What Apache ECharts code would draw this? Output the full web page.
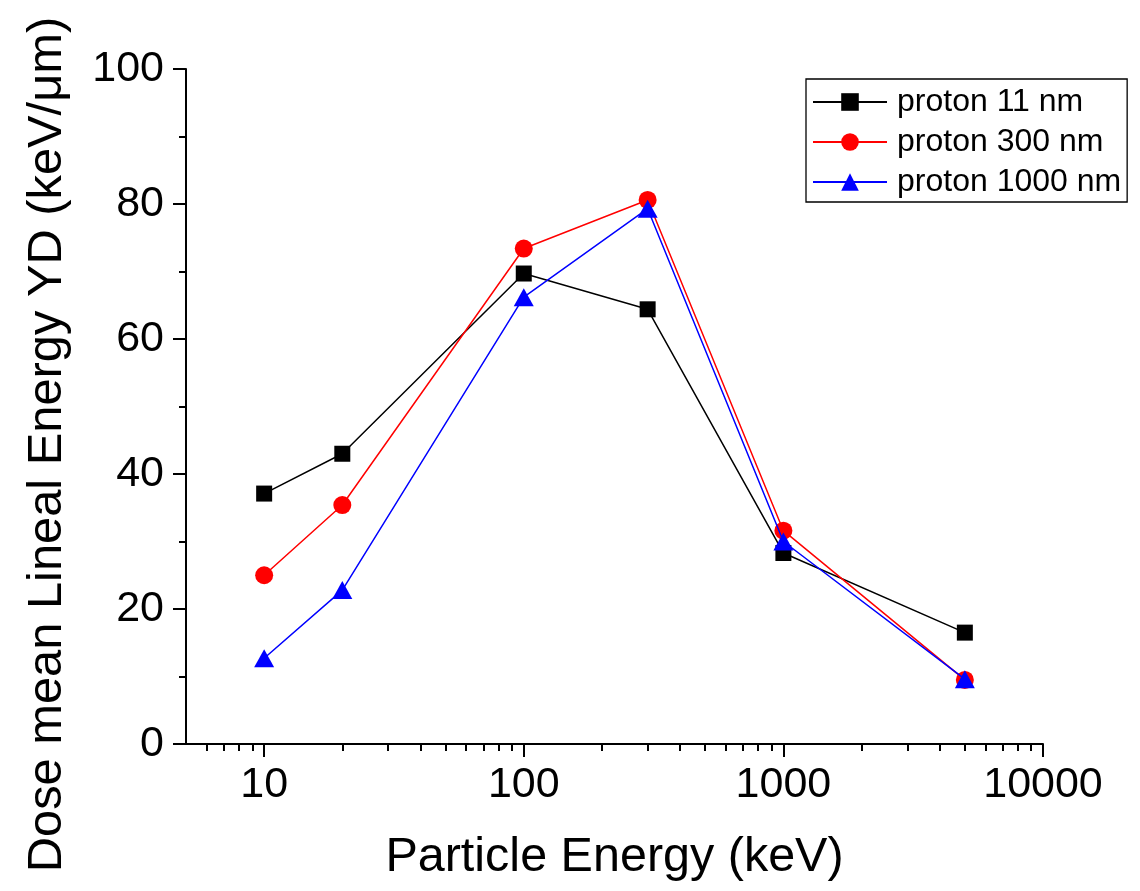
<!DOCTYPE html>
<html>
<head>
<meta charset="utf-8">
<script src="https://cdn.jsdelivr.net/npm/echarts@6/dist/echarts.min.js"></script>
<style>
  html, body { margin: 0; padding: 0; background: #fff; }
  #chart { width: 1140px; height: 891px; }
</style>
</head>
<body>
<div id="chart"></div>
<script>
// Particle energies (keV) at which the dose-mean lineal energy was evaluated
const energies = [10, 20, 100, 300, 1000, 5000];

// Dose-mean lineal energy yD (keV/μm) for each site size
const proton11nm   = [37.1, 43.0, 69.7, 64.4, 28.3, 16.5];
const proton300nm  = [25.0, 35.4, 73.4, 80.6, 31.6, 9.5];
const proton1000nm = [12.7, 22.8, 66.2, 79.3, 30.0, 9.6];

const seriesNames = ['proton 11 nm', 'proton 300 nm', 'proton 1000 nm'];

// Axis ticks
const xMajorTicks = [10, 100, 1000, 10000];
const xMinorTicks = [6, 7, 8, 9, 20, 30, 40, 50, 60, 70, 80, 90,
                     200, 300, 400, 500, 600, 700, 800, 900,
                     2000, 3000, 4000, 5000, 6000, 7000, 8000, 9000];
const yTicks = [0, 20, 40, 60, 80, 100];

const FONT = '"Liberation Sans", Arial, sans-serif';

function pairs(ys) { return energies.map((x, i) => [x, ys[i]]); }

const chart = echarts.init(document.getElementById('chart'), null, { renderer: 'canvas' });

const axisLineStyle = { color: '#000', width: 2 };

chart.setOption({
  animation: false,
  backgroundColor: '#fff',
  grid: { left: 186, right: 97, top: 69, bottom: 147, containLabel: false, outerBoundsMode: 'none' },
  legend: {
    left: 806, top: 79,
    orient: 'vertical',
    padding: [7, 6, 4, 6],
    itemGap: 8,
    itemWidth: 74,
    itemHeight: 22,
    borderColor: '#000',
    borderWidth: 1.3,
    textStyle: { fontFamily: FONT, fontSize: 32, color: '#000', padding: [0, 0, 0, 5] },
    data: seriesNames
  },
  xAxis: [
    {
      type: 'log', logBase: 10, min: 5, max: 10000,
      position: 'bottom',
      name: 'Particle Energy (keV)',
      nameLocation: 'middle', nameGap: 89,
      nameTextStyle: { fontFamily: FONT, fontSize: 48.5, color: '#000' },
      axisLine: { lineStyle: axisLineStyle },
      axisTick: { show: true, inside: false, length: 13, lineStyle: axisLineStyle, customValues: xMajorTicks },
      axisLabel: {
        fontFamily: FONT, fontSize: 43, color: '#000', margin: 20,
        customValues: xMajorTicks,
        formatter: v => String(Math.round(v))
      },
      splitLine: { show: false },
      minorTick: { show: false }
    },
    {
      // minor decade ticks (2..9 × 10^n)
      type: 'log', logBase: 10, min: 5, max: 10000,
      position: 'bottom',
      axisLine: { show: false },
      axisTick: { show: true, inside: false, length: 7, lineStyle: axisLineStyle, customValues: xMinorTicks },
      axisLabel: { show: false },
      splitLine: { show: false }
    }
  ],
  yAxis: {
    type: 'value', min: 0, max: 100, interval: 20,
    name: 'Dose mean Lineal Energy YD (keV/μm)',
    nameLocation: 'middle', nameGap: 114,
    nameTextStyle: { fontFamily: FONT, fontSize: 48.8, color: '#000', padding: [0, 76, 0, 0] },
    axisLine: { show: true, lineStyle: axisLineStyle },
    axisTick: { show: true, inside: false, length: 13, lineStyle: axisLineStyle },
    minorTick: { show: true, splitNumber: 2, length: 7, lineStyle: axisLineStyle },
    axisLabel: { fontFamily: FONT, fontSize: 43, color: '#000', margin: 22,
                 customValues: yTicks },
    splitLine: { show: false }
  },
  series: [
    {
      name: seriesNames[0], type: 'line', xAxisIndex: 0,
      data: pairs(proton11nm),
      symbol: 'rect', symbolSize: 16,
      itemStyle: { color: '#000' },
      lineStyle: { color: '#000', width: 1.5 },
      z: 2
    },
    {
      name: seriesNames[1], type: 'line', xAxisIndex: 0,
      data: pairs(proton300nm),
      symbol: 'circle', symbolSize: 18,
      itemStyle: { color: '#ff0000' },
      lineStyle: { color: '#ff0000', width: 1.5 },
      z: 3
    },
    {
      name: seriesNames[2], type: 'line', xAxisIndex: 0,
      data: pairs(proton1000nm),
      symbol: 'triangle', symbolSize: [20, 18],
      itemStyle: { color: '#0000ff' },
      lineStyle: { color: '#0000ff', width: 1.5 },
      z: 4
    }
  ]
});
</script>
</body>
</html>
